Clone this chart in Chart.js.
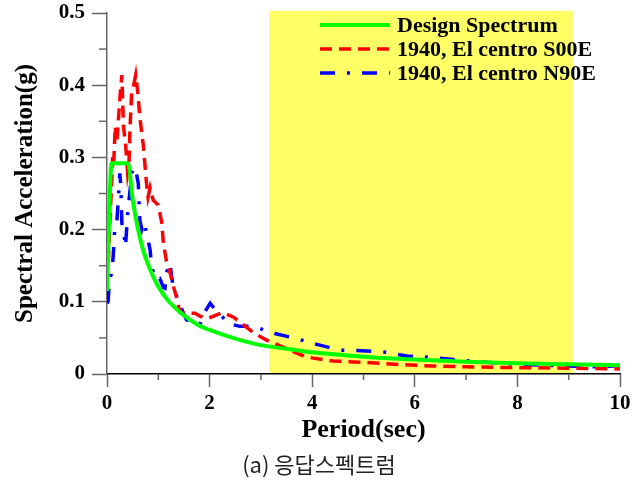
<!DOCTYPE html>
<html>
<head>
<meta charset="utf-8">
<script src="https://cdn.jsdelivr.net/npm/chart.js@4.4.1/dist/chart.umd.min.js"></script>
<style>
  html, body { margin: 0; padding: 0; background: #fff; }
  #wrap { width: 644px; height: 482px; position: relative; }
</style>
</head>
<body>
<div id="wrap"><canvas id="chart"></canvas></div>
<script>
// Design spectrum
const designPeriod = [0, 0.09, 0.2, 0.3, 0.41, 0.5, 0.6, 0.7, 0.8, 0.9, 1.0, 1.2, 1.4, 1.6, 1.8, 2.0, 2.5, 3.0, 3.5, 4.0, 5, 6, 7, 8, 9, 10];
const designSa = [0.115, 0.292, 0.292, 0.292, 0.292, 0.242, 0.202, 0.173, 0.152, 0.135, 0.121, 0.101, 0.087, 0.076, 0.067, 0.061, 0.049, 0.040, 0.035, 0.030, 0.024, 0.020, 0.017, 0.015, 0.0135, 0.012];

// 1940 El Centro S00E
const s00ePeriod = [0, 0.03, 0.06, 0.09, 0.11, 0.13, 0.16, 0.19, 0.22, 0.26, 0.29, 0.32, 0.36, 0.40, 0.43, 0.45, 0.48, 0.52, 0.56, 0.60, 0.64, 0.71, 0.77, 0.80, 0.84, 0.90, 1.00, 1.07, 1.10, 1.16, 1.23, 1.30, 1.36, 1.42, 1.55, 1.72, 1.81, 1.97, 2.25, 2.46, 2.66, 2.88, 3.11, 3.34, 3.57, 3.80, 4.02, 4.41, 5.06, 5.71, 6.36, 7.0, 7.66, 8.3, 8.96, 9.87, 10];
const s00eSa = [0.155, 0.16, 0.22, 0.26, 0.30, 0.29, 0.343, 0.32, 0.35, 0.39, 0.414, 0.343, 0.32, 0.28, 0.296, 0.343, 0.389, 0.40, 0.414, 0.39, 0.356, 0.315, 0.264, 0.245, 0.258, 0.241, 0.234, 0.209, 0.18, 0.156, 0.14, 0.12, 0.105, 0.086, 0.084, 0.084, 0.08, 0.077, 0.085, 0.079, 0.068, 0.056, 0.047, 0.040, 0.033, 0.026, 0.022, 0.018, 0.016, 0.013, 0.011, 0.010, 0.009, 0.0087, 0.008, 0.0073, 0.007];

// 1940 El Centro N90E
const n90ePeriod = [0, 0.02, 0.05, 0.09, 0.12, 0.15, 0.19, 0.22, 0.25, 0.27, 0.29, 0.33, 0.36, 0.40, 0.45, 0.48, 0.53, 0.58, 0.61, 0.64, 0.68, 0.73, 0.77, 0.84, 0.87, 0.93, 0.97, 1.03, 1.10, 1.13, 1.16, 1.20, 1.23, 1.26, 1.29, 1.39, 1.49, 1.55, 1.65, 1.81, 1.90, 2.01, 2.10, 2.17, 2.36, 2.59, 2.85, 3.27, 3.70, 4.02, 4.15, 4.54, 5.06, 5.45, 5.84, 6.3, 6.75, 7.21, 7.66, 8.11, 8.57, 8.99, 9.45, 9.9, 10];
const n90eSa = [0.098, 0.10, 0.13, 0.14, 0.162, 0.20, 0.209, 0.241, 0.278, 0.26, 0.209, 0.195, 0.176, 0.22, 0.255, 0.278, 0.287, 0.275, 0.264, 0.213, 0.20, 0.21, 0.195, 0.172, 0.149, 0.135, 0.13, 0.132, 0.12, 0.119, 0.139, 0.153, 0.153, 0.135, 0.121, 0.102, 0.084, 0.075, 0.072, 0.068, 0.085, 0.098, 0.09, 0.086, 0.07, 0.066, 0.066, 0.056, 0.049, 0.042, 0.040, 0.033, 0.032, 0.030, 0.025, 0.023, 0.020, 0.017, 0.015, 0.013, 0.012, 0.011, 0.010, 0.011, 0.011];

const seriesNames = ["Design Spectrum", "1940, El centro S00E", "1940, El centro N90E"];
const xRange = [0, 10];
const yRange = [0, 0.5];
const bandRange = [3.16, 9.08];   // highlighted period range
const bandTop = 0.503;
const caption = "(a) 응답스펙트럼";

const toPoints = (xs, ys) => xs.map((t, i) => ({ x: t, y: ys[i] }));

Chart.defaults.font.family = "'Liberation Serif', 'Times New Roman', serif";
Chart.defaults.color = "#000";

// yellow band behind the curves
const bandPlugin = {
  id: "band",
  beforeDatasetsDraw(chart) {
    const { ctx, scales: { x, y } } = chart;
    const left = x.getPixelForValue(bandRange[0]);
    const right = x.getPixelForValue(bandRange[1]);
    const top = y.getPixelForValue(bandTop);
    const bottom = y.getPixelForValue(0) - 1;
    ctx.save();
    ctx.fillStyle = "#ffff66";
    ctx.fillRect(left, top, right - left, bottom - top);
    ctx.restore();
  }
};

// short ticks for the unlabeled values
const minorTicks = {
  id: "minorTicks",
  afterDraw(chart) {
    const { ctx, scales: { x, y } } = chart;
    ctx.save();
    ctx.strokeStyle = "#666";
    ctx.lineWidth = 1.5;
    x.ticks.forEach(t => {
      if (t.label !== "") return;
      const px = x.getPixelForValue(t.value);
      ctx.beginPath();
      ctx.moveTo(px, x.top);
      ctx.lineTo(px, x.top + 6);
      ctx.stroke();
    });
    y.ticks.forEach(t => {
      if (t.label !== "") return;
      const py = y.getPixelForValue(t.value);
      ctx.beginPath();
      ctx.moveTo(y.right - 8, py);
      ctx.lineTo(y.right, py);
      ctx.stroke();
    });
    ctx.restore();
  }
};

// legend inside the plot, top right
const innerLegend = {
  id: "innerLegend",
  afterDatasetsDraw(chart) {
    const { ctx } = chart;
    const x0 = 320, x1 = 390, textX = 397, rowY = 25, rowGap = 24;
    ctx.save();
    ctx.font = "bold 22px 'Liberation Serif', serif";
    ctx.textBaseline = "middle";
    ctx.fillStyle = "#000";
    chart.data.datasets.forEach((ds, i) => {
      const yy = rowY + i * rowGap;
      ctx.strokeStyle = ds.borderColor;
      ctx.lineWidth = ds.borderWidth;
      ctx.setLineDash(ds.borderDash || []);
      ctx.beginPath();
      ctx.moveTo(x0, yy);
      ctx.lineTo(x1, yy);
      ctx.stroke();
      ctx.setLineDash([]);
      ctx.fillText(ds.label, textX, yy + 1);
    });
    ctx.restore();
  }
};

const ctx = document.getElementById("chart");

const chart = new Chart(ctx, {
  type: "line",
  data: {
    datasets: [
      {
        label: seriesNames[0],
        data: toPoints(designPeriod, designSa),
        borderColor: "#00ff00",
        borderWidth: 4,
        cubicInterpolationMode: "monotone"
      },
      {
        label: seriesNames[1],
        data: toPoints(s00ePeriod, s00eSa),
        borderColor: "#ff0000",
        borderWidth: 3.5,
        borderDash: [12, 7]
      },
      {
        label: seriesNames[2],
        data: toPoints(n90ePeriod, n90eSa),
        borderColor: "#0000ff",
        borderWidth: 3.5,
        borderDash: [15, 12, 3, 12]
      }
    ]
  },
  options: {
    responsive: true,
    maintainAspectRatio: false,
    animation: false,
    elements: {
      point: { radius: 0 },
      line: { tension: 0, fill: false }
    },
    layout: { padding: { left: 0, right: 6, top: 0, bottom: 0 } },
    scales: {
      x: {
        type: "linear",
        min: xRange[0],
        max: xRange[1],
        afterFit(scale) {
          scale.height = 77.6;
          scale.paddingRight = 24;
        },
        ticks: {
          stepSize: 1,
          autoSkip: false,
          maxRotation: 0,
          padding: 4,
          font: { size: 21, weight: "bold" },
          callback: v => (v % 2 === 0 ? String(v) : "")
        },
        grid: {
          drawOnChartArea: false,
          tickLength: 13,
          tickWidth: 1.5,
          tickColor: c => (c.tick && c.tick.value % 2 === 0 ? "#666" : "rgba(0,0,0,0)")
        },
        border: { color: "#000", width: 1.5 },
        title: {
          display: true,
          text: "Period(sec)",
          font: { size: 26, weight: "bold" },
          padding: { top: 0, bottom: 6 }
        }
      },
      y: {
        min: yRange[0],
        max: yRange[1],
        afterFit(scale) {
          scale.width = 107;
          scale.paddingTop = 13;
        },
        ticks: {
          stepSize: 0.05,
          autoSkip: false,
          padding: 7,
          font: { size: 21, weight: "bold" },
          callback: v => {
            const tenth = Math.round(v * 10);
            if (Math.abs(v * 10 - tenth) > 1e-6) return "";
            return tenth === 0 ? "0" : (tenth / 10).toFixed(1);
          }
        },
        grid: {
          drawOnChartArea: false,
          tickLength: 15,
          tickWidth: 1.5,
          tickColor: c => (c.tick && Math.abs(c.tick.value * 10 - Math.round(c.tick.value * 10)) < 1e-6 ? "#666" : "rgba(0,0,0,0)")
        },
        border: { color: "#666", width: 1.5 },
        title: {
          display: true,
          text: "Spectral Acceleration(g)",
          font: { size: 25, weight: "bold" },
          padding: { top: 11, bottom: 0 }
        }
      }
    },
    plugins: {
      legend: { display: false },
      tooltip: { enabled: false },
      title: {
        display: true,
        position: "bottom",
        text: caption,
        color: "#222",
        font: { family: "'Noto Sans CJK KR', sans-serif", size: 22, weight: "normal" },
        padding: { top: 0, bottom: 4 }
      }
    }
  },
  plugins: [bandPlugin, minorTicks, innerLegend]
});
</script>
</body>
</html>
